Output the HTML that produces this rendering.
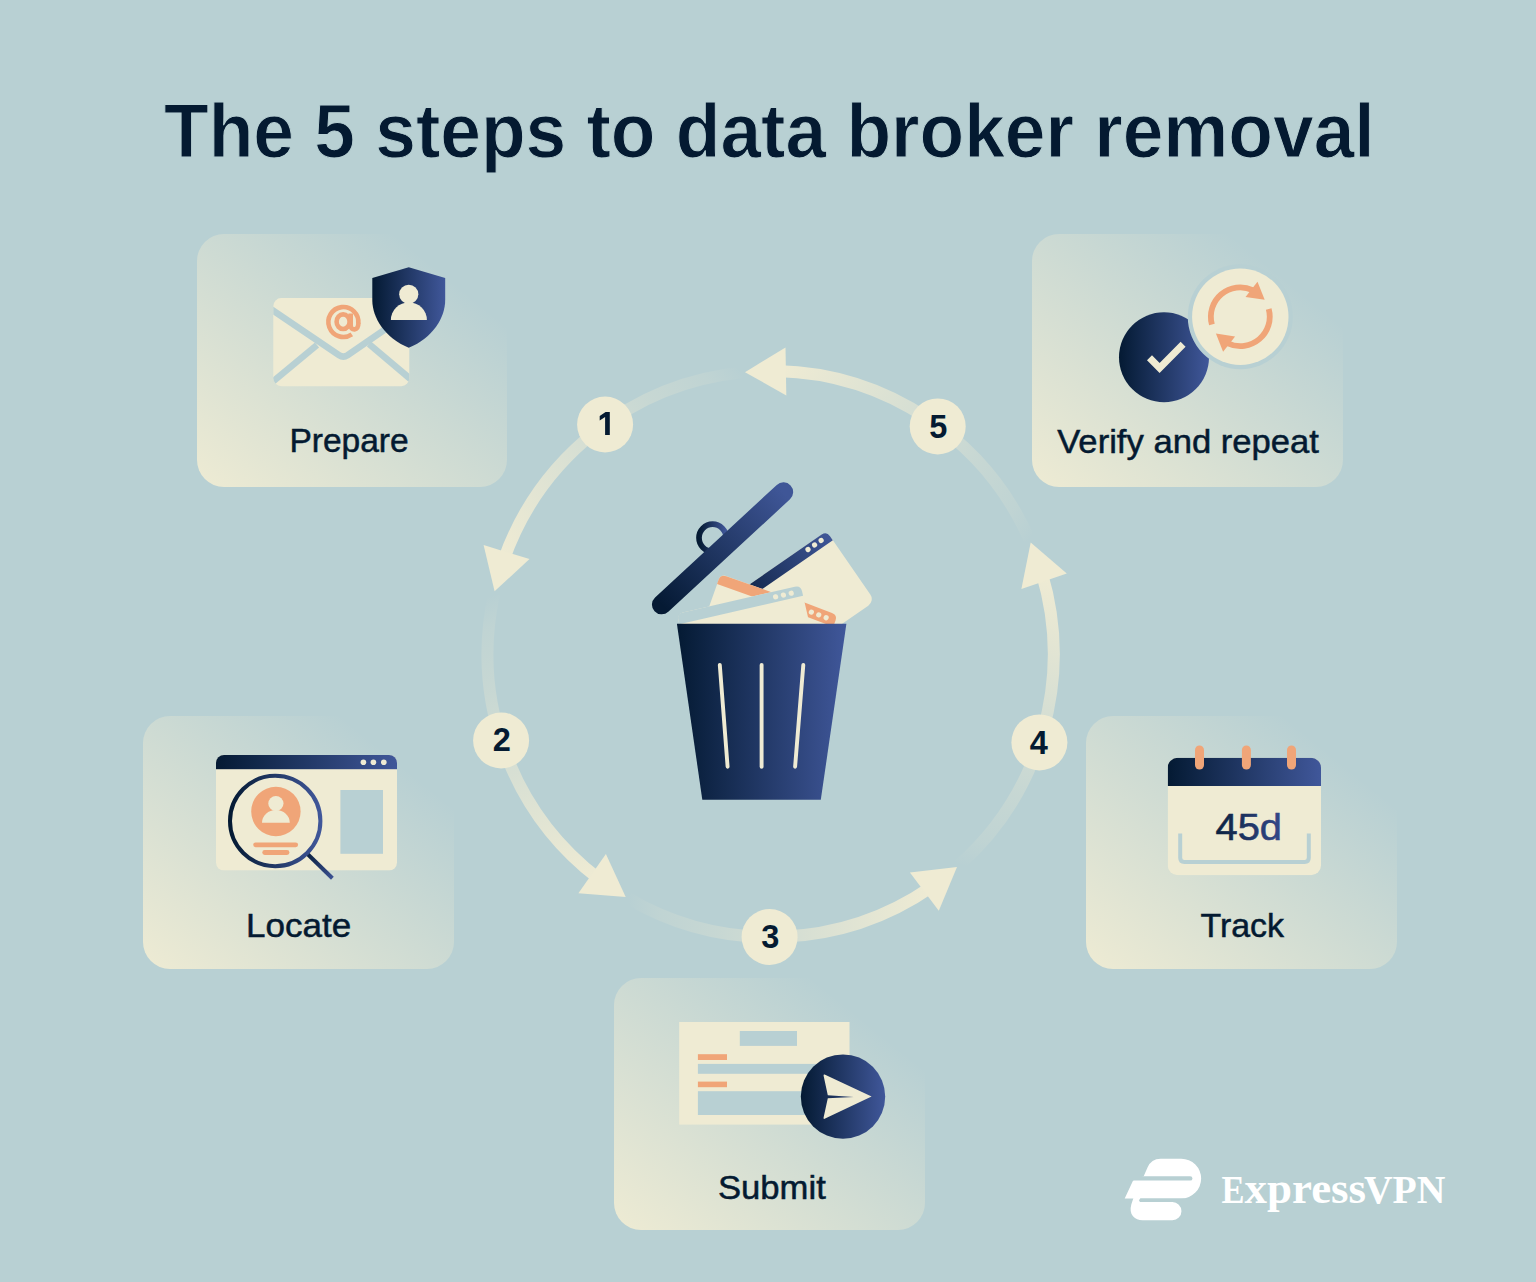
<!DOCTYPE html>
<html><head><meta charset="utf-8"><style>
html,body{margin:0;padding:0;background:#B8D0D3;}
svg{display:block;font-family:"Liberation Sans",sans-serif;}
</style></head><body>
<svg width="1536" height="1282" viewBox="0 0 1536 1282">
<defs><linearGradient id="nv" x1="0" y1="0" x2="1" y2="0"><stop offset="0" stop-color="#041A33"/><stop offset="1" stop-color="#40579A"/></linearGradient>
<linearGradient id="card" x1="0" y1="1" x2="1" y2="0"><stop offset="0" stop-color="#EEEBD3" stop-opacity="1"/><stop offset="0.82" stop-color="#EEEBD3" stop-opacity="0"/></linearGradient><linearGradient id="ag0" gradientUnits="userSpaceOnUse" x1="1029.7" y1="540.2" x2="777.0" y2="371.1"><stop offset="0" stop-color="#EFEBD3" stop-opacity="0"/><stop offset="0.1" stop-color="#EFEBD3" stop-opacity="0.14"/><stop offset="0.3" stop-color="#EFEBD3" stop-opacity="0.28"/><stop offset="1" stop-color="#EFEBD3" stop-opacity="1"/></linearGradient><linearGradient id="ag1" gradientUnits="userSpaceOnUse" x1="742.5" y1="372.4" x2="503.5" y2="560.5"><stop offset="0" stop-color="#EFEBD3" stop-opacity="0"/><stop offset="0.1" stop-color="#EFEBD3" stop-opacity="0.14"/><stop offset="0.3" stop-color="#EFEBD3" stop-opacity="0.28"/><stop offset="1" stop-color="#EFEBD3" stop-opacity="1"/></linearGradient><linearGradient id="ag2" gradientUnits="userSpaceOnUse" x1="494.1" y1="593.7" x2="599.1" y2="879.1"><stop offset="0" stop-color="#EFEBD3" stop-opacity="0"/><stop offset="0.1" stop-color="#EFEBD3" stop-opacity="0.14"/><stop offset="0.3" stop-color="#EFEBD3" stop-opacity="0.28"/><stop offset="1" stop-color="#EFEBD3" stop-opacity="1"/></linearGradient><linearGradient id="ag3" gradientUnits="userSpaceOnUse" x1="627.8" y1="898.3" x2="931.7" y2="886.7"><stop offset="0" stop-color="#EFEBD3" stop-opacity="0"/><stop offset="0.1" stop-color="#EFEBD3" stop-opacity="0.14"/><stop offset="0.3" stop-color="#EFEBD3" stop-opacity="0.28"/><stop offset="1" stop-color="#EFEBD3" stop-opacity="1"/></linearGradient><linearGradient id="ag4" gradientUnits="userSpaceOnUse" x1="958.9" y1="865.3" x2="1041.7" y2="572.7"><stop offset="0" stop-color="#EFEBD3" stop-opacity="0"/><stop offset="0.1" stop-color="#EFEBD3" stop-opacity="0.14"/><stop offset="0.3" stop-color="#EFEBD3" stop-opacity="0.28"/><stop offset="1" stop-color="#EFEBD3" stop-opacity="1"/></linearGradient></defs>
<rect width="1536" height="1282" fill="#B8D0D3"/>
<rect x="197" y="234" width="310" height="253" rx="27" fill="url(#card)"/>
<rect x="1032" y="234" width="311" height="253" rx="27" fill="url(#card)"/>
<rect x="143" y="716" width="311" height="253" rx="27" fill="url(#card)"/>
<rect x="1086" y="716" width="311" height="253" rx="27" fill="url(#card)"/>
<rect x="614" y="978" width="311" height="252" rx="27" fill="url(#card)"/>
<text x="349.05" y="452.1" text-anchor="middle" font-size="33" fill="#041A31" stroke="#041A31" stroke-width="0.5" textLength="119.3" lengthAdjust="spacingAndGlyphs" class="lab">Prepare</text>
<text x="1188.1" y="452.5" text-anchor="middle" font-size="33" fill="#041A31" stroke="#041A31" stroke-width="0.5" textLength="261.8" lengthAdjust="spacingAndGlyphs" class="lab">Verify and repeat</text>
<text x="298.6" y="937" text-anchor="middle" font-size="33" fill="#041A31" stroke="#041A31" stroke-width="0.5" textLength="105.2" lengthAdjust="spacingAndGlyphs" class="lab">Locate</text>
<text x="1242.25" y="936.9" text-anchor="middle" font-size="33" fill="#041A31" stroke="#041A31" stroke-width="0.5" textLength="83.6" lengthAdjust="spacingAndGlyphs" class="lab">Track</text>
<text x="771.9" y="1199.3" text-anchor="middle" font-size="33" fill="#041A31" stroke="#041A31" stroke-width="0.5" textLength="107.8" lengthAdjust="spacingAndGlyphs" class="lab">Submit</text>
<text x="769.3" y="156.6" text-anchor="middle" font-size="76" font-weight="bold" fill="#041A31" stroke="#B8D0D3" stroke-width="1" textLength="1210.6" lengthAdjust="spacingAndGlyphs">The 5 steps to data broker removal</text>
<path d="M1029.7,540.2 A283,283 0 0 0 777.0,371.1" fill="none" stroke="url(#ag0)" stroke-width="12"/>
<path d="M745.0,372.2 L785.5,347.4 L786.3,395.4 Z" fill="#EFEBD3"/>
<path d="M742.5,372.4 A283,283 0 0 0 503.5,560.5" fill="none" stroke="url(#ag1)" stroke-width="12"/>
<path d="M494.6,591.3 L483.6,545.1 L529.5,559.1 Z" fill="#EFEBD3"/>
<path d="M494.1,593.7 A283,283 0 0 0 599.1,879.1" fill="none" stroke="url(#ag2)" stroke-width="12"/>
<path d="M625.7,897.1 L578.4,893.3 L605.9,853.9 Z" fill="#EFEBD3"/>
<path d="M627.8,898.3 A283,283 0 0 0 931.7,886.7" fill="none" stroke="url(#ag3)" stroke-width="12"/>
<path d="M957.0,866.9 L938.8,910.8 L909.9,872.5 Z" fill="#EFEBD3"/>
<path d="M958.9,865.3 A283,283 0 0 0 1041.7,572.7" fill="none" stroke="url(#ag4)" stroke-width="12"/>
<path d="M1030.7,542.5 L1066.8,573.4 L1021.4,589.1 Z" fill="#EFEBD3"/>
<circle cx="769.6" cy="937.0" r="28" fill="#EFEBD3"/>
<text x="770.35" y="947.8" text-anchor="middle" font-size="32.5" font-weight="bold" fill="#041A31">3</text>
<circle cx="501.1" cy="740.5" r="28" fill="#EFEBD3"/>
<text x="501.85" y="750.9" text-anchor="middle" font-size="32.5" font-weight="bold" fill="#041A31">2</text>
<circle cx="605.1" cy="424.5" r="28" fill="#EFEBD3"/>
<path d="M609.8,411.9 V434.9 H605.1 V417 L599.7,420.6 V416 L605.6,411.9 Z" fill="#041A31"/>
<circle cx="937.7" cy="426.4" r="28" fill="#EFEBD3"/>
<text x="938.25" y="437.8" text-anchor="middle" font-size="32.5" font-weight="bold" fill="#041A31">5</text>
<circle cx="1039.4" cy="742.4" r="28" fill="#EFEBD3"/>
<text x="1038.75" y="753.8" text-anchor="middle" font-size="32.5" font-weight="bold" fill="#041A31">4</text>
<rect x="273.3" y="298.1" width="136" height="88.1" rx="8" fill="#EFEBD3"/>
<clipPath id="envclip"><rect x="273.3" y="298.1" width="136" height="88.1" rx="8"/></clipPath>
<g clip-path="url(#envclip)" stroke="#B8D0D3" stroke-width="6.5" fill="none" stroke-linejoin="round"><path d="M270,308.45 L339.16,355.2 Q343.3,358 347.5,355.28 L412,310.8"/><path d="M270,384 L317,345"/><path d="M369,344 L414,382"/></g>
<g fill="none" stroke="#F0A578" stroke-width="4.6"><path d="M351.8,334.4 A15,15 0 1 1 358.3,323.6"/><ellipse cx="343.1" cy="321.7" rx="6.5" ry="7.3"/><path d="M350.7,313.6 V325 Q350.7,329.6 354.6,329.4 Q358.4,329 358.4,322.8"/></g>
<path d="M372.3,278.1 L408.75,267.2 L445.2,278.1 L445.2,300 C445.2,318 432.5,338 408.75,347.8 C385,338 372.3,318 372.3,300 Z" fill="url(#nv)"/>
<circle cx="408.75" cy="294.3" r="9.6" fill="#EFEBD3"/>
<path d="M390.9,319.9 A18,17.4 0 0 1 426.9,319.9 Z" fill="#EFEBD3"/>
<circle cx="1240.3" cy="316.7" r="52.5" fill="#B8D0D3"/>
<circle cx="1240.3" cy="316.7" r="48.2" fill="#EFEBD3"/>
<clipPath id="chkclip"><path d="M0,0 H1536 V1282 H0 Z M1240.3,316.7 m-52.5,0 a52.5,52.5 0 1 0 105,0 a52.5,52.5 0 1 0 -105,0 Z" clip-rule="evenodd"/></clipPath>
<circle cx="1164" cy="357.2" r="45" fill="url(#nv)" clip-path="url(#chkclip)"/>
<path d="M1149.5,357.7 L1159.6,368 L1183.1,344.3" fill="none" stroke="#EFEBD3" stroke-width="7" stroke-linejoin="miter"/>
<path d="M1211.9,324.5 A29.4,29.4 0 0 1 1252.7,290.1" fill="none" stroke="#F0A578" stroke-width="5.8"/>
<path d="M1268.7,308.9 A29.4,29.4 0 0 1 1227.9,343.3" fill="none" stroke="#F0A578" stroke-width="5.8"/>
<polygon points="1264.7,299.8 1257.5,281.7 1245.5,297.0" fill="#F0A578"/>
<polygon points="1215.9,333.6 1223.1,351.7 1235.1,336.4" fill="#F0A578"/>
<clipPath id="brclip"><rect x="216" y="755" width="181" height="115.6" rx="8"/></clipPath>
<g clip-path="url(#brclip)"><rect x="216" y="755" width="181" height="115.6" fill="#EFEBD3"/><rect x="216" y="755" width="181" height="14.2" fill="url(#nv)"/></g>
<circle cx="363.4" cy="762.3" r="2.8" fill="#EFEBD3"/>
<circle cx="373.4" cy="762.3" r="2.8" fill="#EFEBD3"/>
<circle cx="383.8" cy="762.3" r="2.8" fill="#EFEBD3"/>
<rect x="340.4" y="790" width="42.6" height="63.8" fill="#B8D0D3"/>
<linearGradient id="mgh" gradientUnits="userSpaceOnUse" x1="307" y1="853.5" x2="332.4" y2="878.2"><stop offset="0" stop-color="#0A1F3D"/><stop offset="1" stop-color="#3A5192"/></linearGradient><line x1="307" y1="853.5" x2="332.4" y2="878.2" stroke="url(#mgh)" stroke-width="4"/>
<circle cx="275.2" cy="821" r="45.2" fill="none" stroke="url(#nv)" stroke-width="4"/>
<circle cx="275.9" cy="811.5" r="24.7" fill="#F0A578"/>
<circle cx="275.9" cy="803.5" r="7.6" fill="#EFEBD3"/>
<path d="M262,822.8 A13.9,12.8 0 0 1 289.8,822.8 Z" fill="#EFEBD3"/>
<line x1="255.6" y1="844.8" x2="295.7" y2="844.8" stroke="#F0A578" stroke-width="4.8" stroke-linecap="round"/>
<line x1="264.7" y1="852.5" x2="287" y2="852.5" stroke="#F0A578" stroke-width="4.8" stroke-linecap="round"/>
<clipPath id="calclip"><rect x="1167.7" y="757.7" width="153.3" height="117.6" rx="10"/></clipPath>
<g clip-path="url(#calclip)"><rect x="1167.7" y="757.7" width="153.3" height="117.6" fill="#EFEBD3"/><rect x="1167.7" y="757.7" width="153.3" height="28.3" fill="url(#nv)"/></g>
<line x1="1199.5" y1="750" x2="1199.5" y2="765" stroke="#F0A578" stroke-width="9" stroke-linecap="round"/>
<line x1="1246.4" y1="750" x2="1246.4" y2="765" stroke="#F0A578" stroke-width="9" stroke-linecap="round"/>
<line x1="1291.5" y1="750" x2="1291.5" y2="765" stroke="#F0A578" stroke-width="9" stroke-linecap="round"/>
<path d="M1180.2,833.5 V857.8 Q1180.2,862 1184.4,862 H1304.6 Q1308.8,862 1308.8,857.8 V833.5" fill="none" stroke="#B8D0D3" stroke-width="4"/>
<linearGradient id="t45" x1="0" y1="0" x2="1" y2="0"><stop offset="0" stop-color="#0A213F"/><stop offset="1" stop-color="#34498A"/></linearGradient>
<text x="1248.8" y="839.5" text-anchor="middle" font-size="37.5" fill="url(#t45)" textLength="66.5" lengthAdjust="spacingAndGlyphs" stroke="url(#t45)" stroke-width="0.6">45d</text>
<rect x="679.2" y="1022" width="170.3" height="102.6" fill="#EFEBD3"/>
<rect x="739.8" y="1031" width="57.2" height="14.9" fill="#B8D0D3"/>
<rect x="697.9" y="1054.2" width="29.1" height="5.8" fill="#F0A578"/>
<rect x="697.9" y="1063.9" width="120" height="9.9" fill="#B8D0D3"/>
<rect x="697.9" y="1081.6" width="29.1" height="5.6" fill="#F0A578"/>
<rect x="697.9" y="1091.2" width="120" height="23.8" fill="#B8D0D3"/>
<circle cx="843" cy="1096.6" r="42.2" fill="url(#nv)"/>
<path d="M824.6,1074.6 L871.6,1096.6 L824.6,1118.8 Q823.2,1119.2 823.6,1117.6 L827.8,1098.2 L853.8,1096.9 L827.8,1095.2 L823.6,1075.8 Q823.4,1074.2 824.6,1074.6 Z" fill="#EFEBD3"/>
<g transform="translate(826.6,531.2) rotate(-34.6)"><rect x="-170" y="0" width="170" height="85" rx="8" fill="#EFEBD3"/><path d="M-170,11 V6 Q-170,0 -164,0 H-6 Q0,0 0,6 V11 Z" fill="url(#nvA)"/><circle cx="-25.7" cy="4.5" r="2.6" fill="#EFEBD3"/><circle cx="-17.7" cy="4.5" r="2.6" fill="#EFEBD3"/><circle cx="-9.75" cy="4.5" r="2.6" fill="#EFEBD3"/></g>
<linearGradient id="nvA" x1="0" y1="0" x2="1" y2="0"><stop offset="0.35" stop-color="#0E2344"/><stop offset="1" stop-color="#3F5697"/></linearGradient>
<g transform="translate(837.6,615.1) rotate(20.8)"><rect x="-60" y="0" width="60" height="40" rx="5" fill="#EFEBD3"/><path d="M-60,12.5 V5 Q-60,0 -55,0 H-6 Q0,0 0,6 V12.5 Z" fill="#F0A578"/><circle cx="-25.6" cy="6.5" r="2.6" fill="#EFEBD3"/><circle cx="-17.7" cy="6.5" r="2.6" fill="#EFEBD3"/><circle cx="-9.8" cy="6.5" r="2.6" fill="#EFEBD3"/></g>
<g transform="translate(720.6,574.2) rotate(19.5)"><rect x="0" y="0" width="54" height="70" rx="5" fill="#EFEBD3"/><path d="M0,10.5 V6 Q0,0 6,0 H54 V10.5 Z" fill="#F0A578"/></g>
<g transform="translate(800.7,585.4) rotate(-12.95)"><rect x="-127" y="0" width="127" height="60" rx="6" fill="#EFEBD3"/><path d="M-127,10.6 V6 Q-127,0 -121,0 H-6 Q0,0 0,6 V10.6 Z" fill="#B8D0D3"/><circle cx="-27" cy="5.5" r="2.6" fill="#EFEBD3"/><circle cx="-19" cy="5.5" r="2.6" fill="#EFEBD3"/><circle cx="-11" cy="5.5" r="2.6" fill="#EFEBD3"/></g>
<path d="M676.9,623.7 H846.4 L820.8,799.8 H702.3 Z" fill="url(#nv)"/>
<g stroke="#EFEBD3" stroke-width="3.9" stroke-linecap="round"><line x1="719.8" y1="665" x2="727.6" y2="766.7"/><line x1="761.6" y1="665" x2="761.6" y2="766.7"/><line x1="803.3" y1="665" x2="795.1" y2="766.7"/></g>
<linearGradient id="lidg" gradientUnits="userSpaceOnUse" x1="661" y1="604" x2="783" y2="492"><stop offset="0" stop-color="#051A34"/><stop offset="1" stop-color="#3F5697"/></linearGradient>
<circle cx="712.6" cy="537.8" r="13.6" fill="none" stroke="url(#nv)" stroke-width="5.7"/>
<line x1="661.7" y1="604.6" x2="783.4" y2="492.1" stroke="url(#lidg)" stroke-width="19.5" stroke-linecap="round"/>
<path d="M1143.7,1176.2 L1147.5,1167.5 Q1151.2,1158.7 1160.6,1158.7 L1181.3,1158.7 A19.85,19.85 0 0 1 1181.3,1198.4 L1124.7,1198.4 L1133.1,1180.6 Z" fill="#fff"/>
<rect x="1128" y="1176.2" width="64.4" height="4.4" rx="2.2" fill="#B8D0D3"/>
<path d="M1133.6,1197.5 L1131.3,1204.5 Q1129.3,1212 1133,1216.3 Q1136.6,1220.2 1142.5,1220.2 H1172.4 A9.05,9.05 0 0 0 1172.4,1202.1 H1140 V1197.5 Z" fill="#fff"/>
<rect x="1139.2" y="1198.4" width="50" height="3.7" rx="1.85" fill="#B8D0D3"/>
<g font-family="Liberation Serif" font-weight="bold" fill="#fff"><text x="1221.5" y="1202.9" font-size="40.5" textLength="23" lengthAdjust="spacingAndGlyphs">E</text><text x="1244.6" y="1202.9" font-size="43.4" textLength="121.5" lengthAdjust="spacingAndGlyphs">xpress</text><text x="1363.9" y="1202.9" font-size="40.5" textLength="81.5" lengthAdjust="spacingAndGlyphs">VPN</text></g>
</svg>
</body></html>
